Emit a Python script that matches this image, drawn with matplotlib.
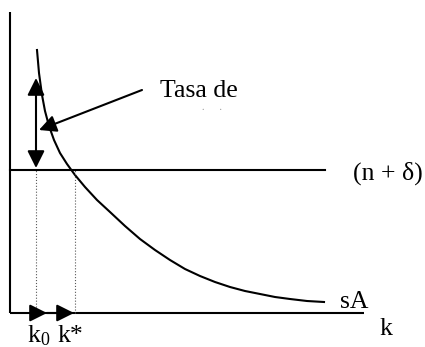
import matplotlib
matplotlib.use("Agg")
import matplotlib.pyplot as plt

plt.rcParams['font.family'] = ['Liberation Serif', 'DejaVu Serif']
plt.rcParams['mathtext.fontset'] = 'custom'
plt.rcParams['mathtext.rm'] = 'Liberation Serif'
plt.rcParams['mathtext.it'] = 'Liberation Serif'

# sA / k curve (average product of capital times s)
k_vals = [27, 29, 32, 35, 39, 44, 50, 57, 65, 75, 87, 100, 115, 130, 145, 160,
          175, 190, 205, 220, 235, 250, 265, 280, 297, 314]
sa_vals = [263, 240, 218, 202, 187, 173, 160, 149, 138, 126, 113, 101, 87, 74, 63, 53,
           44, 37, 31, 26, 22, 19, 16, 14, 12, 11]

# (n + delta) level and its extent
n_delta = 143
n_delta_end = 315

# axes extents
k_max = 354
y_max = 301

k0 = 26
k_star = 65

fig = plt.figure(figsize=(4.25, 3.47), dpi=100)
ax = fig.add_axes([0, 0, 1, 1])
ax.set_xlim(-10, 415)
ax.set_ylim(-34, 313)
ax.axis('off')

# axes
ax.plot([0, 0], [0, y_max], color='black', lw=1.5, solid_capstyle='butt')
ax.plot([0, k_max], [0, 0], color='black', lw=1.5, solid_capstyle='butt')

# curve and horizontal line
ax.plot(k_vals, sa_vals, color='black', lw=1.5)
ax.plot([0, n_delta_end], [n_delta, n_delta], color='black', lw=1.5)

# dotted guides down to the k axis
ax.plot([k0, k0], [0, n_delta], color='0.35', lw=0.8, ls=':')
ax.plot([k_star, k_star], [0, n_delta], color='0.35', lw=0.8, ls=':')

arrow_kw = dict(color='black', lw=1.5, mutation_scale=26, shrinkA=0, shrinkB=0)

# double arrow at k0 between the line and the curve
ax.annotate('', xy=(k0, 235), xytext=(k0, 145),
            arrowprops=dict(arrowstyle='<|-|>', **arrow_kw))

# pointer from the label to the growth-rate arrow
ax.annotate('', xy=(29, 183), xytext=(132, 223),
            arrowprops=dict(arrowstyle='-|>', **arrow_kw))

# movement of k along the axis
ax.annotate('', xy=(37, 0), xytext=(20, 0),
            arrowprops=dict(arrowstyle='-|>', **arrow_kw))
ax.annotate('', xy=(64, 0), xytext=(37, 0),
            arrowprops=dict(arrowstyle='-|>', **arrow_kw))

fs = 18.5
ax.text(150, 216, 'Tasa de', fontsize=fs, ha='left', va='baseline')
ax.text(192, 203, '.      .', fontsize=7, color='0.55', ha='left', va='baseline')
ax.text(343, 140, r'(n + δ)', fontsize=fs, ha='left', va='center')
ax.text(330, 5, 'sA', fontsize=fs, ha='left', va='baseline')
ax.text(370, -22, 'k', fontsize=fs, ha='left', va='baseline')
ax.text(17, -29, r'k$_{\rm 0}$', fontsize=fs, ha='left', va='baseline')
ax.text(48, -29, 'k*', fontsize=fs, ha='left', va='baseline')

fig.savefig('out.png', dpi=100)
